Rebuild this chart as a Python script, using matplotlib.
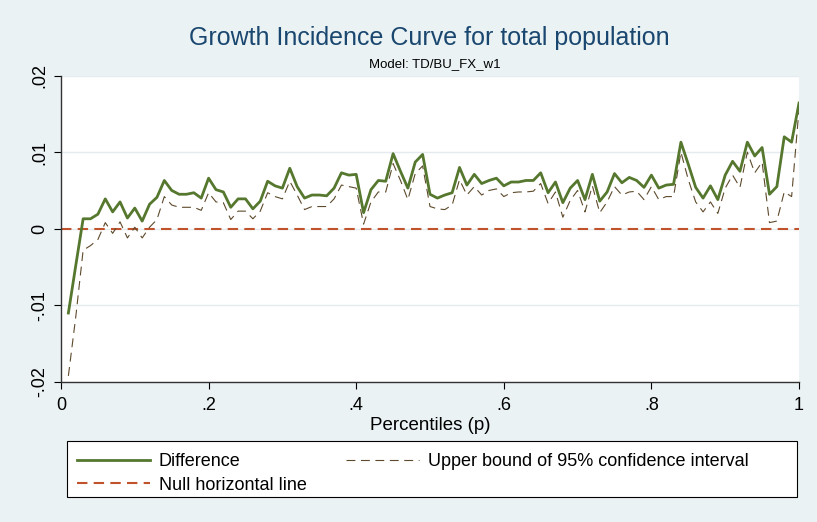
import matplotlib
matplotlib.use('Agg')
import matplotlib.pyplot as plt
import matplotlib.patches as patches
import numpy as np

plt.rcParams['font.family'] = ['Liberation Sans', 'DejaVu Sans']

# percentiles 0.01 .. 1.00
percentiles = np.arange(1, 101) / 100

difference = [
    -0.0110, -0.0048, 0.0013, 0.0013, 0.0019, 0.0039, 0.0022, 0.0035, 0.0014, 0.0027,
    0.0010, 0.0032, 0.0041, 0.0063, 0.0050, 0.0045, 0.0045, 0.0047, 0.0040, 0.0066,
    0.0051, 0.0048, 0.0028, 0.0039, 0.0039, 0.0026, 0.0036, 0.0062, 0.0056, 0.0053,
    0.0079, 0.0055, 0.0040, 0.0044, 0.0044, 0.0043, 0.0053, 0.0073, 0.0070, 0.0071,
    0.0021, 0.0051, 0.0063, 0.0062, 0.0098, 0.0075, 0.0053, 0.0087, 0.0097, 0.0045,
    0.0040, 0.0044, 0.0047, 0.0080, 0.0057, 0.0071, 0.0059, 0.0063, 0.0066, 0.0056,
    0.0061, 0.0061, 0.0063, 0.0063, 0.0073, 0.0047, 0.0061, 0.0034, 0.0053, 0.0063,
    0.0038, 0.0071, 0.0036, 0.0048, 0.0072, 0.0060, 0.0067, 0.0063, 0.0054, 0.0070,
    0.0053, 0.0057, 0.0058, 0.0113, 0.0084, 0.0054, 0.0040, 0.0056, 0.0038, 0.0070,
    0.0088, 0.0075, 0.0113, 0.0095, 0.0106, 0.0045, 0.0055, 0.0120, 0.0113, 0.0164,
]

upper_bound = [
    -0.0192, -0.0115, -0.0028, -0.0022, -0.0014, 0.0008, -0.0006, 0.0009, -0.0012, 0.0002,
    -0.0012, 0.0002, 0.0012, 0.0042, 0.0031, 0.0028, 0.0028, 0.0028, 0.0024, 0.0047,
    0.0035, 0.0034, 0.0012, 0.0023, 0.0023, 0.0013, 0.0023, 0.0047, 0.0042, 0.0039,
    0.0062, 0.0044, 0.0025, 0.0029, 0.0029, 0.0029, 0.0039, 0.0057, 0.0055, 0.0053,
    0.0006, 0.0035, 0.0048, 0.0048, 0.0085, 0.0063, 0.0038, 0.0072, 0.0082, 0.0029,
    0.0026, 0.0025, 0.0031, 0.0064, 0.0044, 0.0055, 0.0044, 0.0050, 0.0052, 0.0042,
    0.0047, 0.0048, 0.0048, 0.0049, 0.0059, 0.0033, 0.0048, 0.0015, 0.0037, 0.0050,
    0.0022, 0.0056, 0.0021, 0.0035, 0.0055, 0.0044, 0.0048, 0.0049, 0.0038, 0.0055,
    0.0038, 0.0042, 0.0042, 0.0100, 0.0064, 0.0035, 0.0022, 0.0035, 0.0020, 0.0053,
    0.0070, 0.0054, 0.0100, 0.0073, 0.0087, 0.0008, 0.0010, 0.0048, 0.0042, 0.0156,
]

null_level = 0.0

x_ticks = [0, 0.2, 0.4, 0.6, 0.8, 1.0]
x_tick_labels = ['0', '.2', '.4', '.6', '.8', '1']
y_ticks = [-0.02, -0.01, 0, 0.01, 0.02]
y_tick_labels = ['-.02', '-.01', '0', '.01', '.02']

bg = '#EAF2F3'
title_col = '#1A476F'
W, H = 817, 522

fig = plt.figure(figsize=(W / 100, H / 100), dpi=100, facecolor=bg)
ax = fig.add_axes([61 / W, 1 - 382 / H, (799 - 61) / W, (382 - 75.5) / H])
ax.set_facecolor('white')

for y in y_ticks:
    ax.axhline(y, color='#E4ECEF', lw=1.0, zorder=0)

l_diff, = ax.plot(percentiles, difference, color='#55772E', lw=2.0, zorder=3,
                  label='Difference')
l_up, = ax.plot(percentiles, upper_bound, color='#5E4A2C', lw=0.8,
                dashes=(8, 5), zorder=2,
                label='Upper bound of 95% confidence interval')
l_null = ax.axhline(null_level, color='#C0532B', lw=1.5, dashes=(5, 3), zorder=1,
                    label='Null horizontal line')

ax.set_xlim(0, 1)
ax.set_ylim(-0.02, 0.02)
ax.set_xticks(x_ticks)
ax.set_xticklabels(x_tick_labels)
ax.set_yticks(y_ticks)
ax.set_yticklabels(y_tick_labels, rotation=90, va='center')
ax.tick_params(axis='both', labelsize=13, length=5, width=0.8, colors='black')
ax.tick_params(axis='x', pad=6)
ax.tick_params(axis='y', pad=4)
for s in ['top', 'right']:
    ax.spines[s].set_visible(False)
for s in ['left', 'bottom']:
    ax.spines[s].set_color('#333333')
    ax.spines[s].set_linewidth(1.0)

ax.set_xlabel('Percentiles (p)', fontsize=13.5, labelpad=2)

fig.text(429 / W, 1 - 38 / H, 'Growth Incidence Curve for total population',
         ha='center', va='center', fontsize=18, color=title_col)
fig.text(435 / W, 1 - 64 / H, 'Model: TD/BU_FX_w1', ha='center', va='center',
         fontsize=9.5, color='black')

# legend frame drawn as its own box, legend entries inside
box = patches.Rectangle((67 / W, 1 - 497 / H), (797 - 67) / W, (497 - 441) / H,
                        transform=fig.transFigure, facecolor='white',
                        edgecolor='black', lw=0.8, zorder=1)
fig.patches.append(box)

leg = fig.legend(handles=[l_diff, l_null, l_up], ncol=2,
                 loc='upper left', bbox_to_anchor=(63 / W, 1 - 439 / H),
                 fontsize=13, frameon=False, handlelength=4.0,
                 columnspacing=2.2, labelspacing=0.35, borderpad=0.3,
                 handletextpad=0.5)

fig.savefig('out.png', dpi=100, facecolor=bg)
